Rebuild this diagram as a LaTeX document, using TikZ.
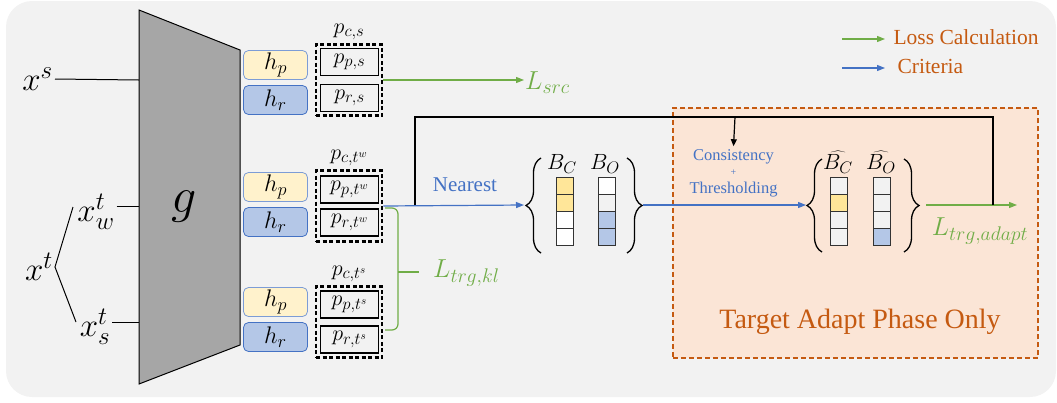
\RequirePackage{fix-cm}
\documentclass[tikz,border=0pt]{standalone}
\usepackage{fontspec}
\setmainfont{Liberation Serif}
\usetikzlibrary{positioning}
\usetikzlibrary{arrows.meta, decorations.pathreplacing}
\def\defaultscriptratio{.76}

\definecolor{panelgray}{HTML}{F2F2F2}
\definecolor{trapgray}{HTML}{A6A6A6}
\definecolor{lossgreen}{HTML}{70AD47}
\definecolor{critblue}{HTML}{4472C4}
\definecolor{adaptorange}{HTML}{C55A11}
\definecolor{adaptfill}{HTML}{FBE5D6}
\definecolor{hpfill}{HTML}{FFF2CC}
\definecolor{hrfill}{HTML}{B4C7E7}
\definecolor{cellyellow}{HTML}{FFE699}

\tikzset{
  hbox/.style={rounded corners=5pt, line width=0.8pt, minimum width=64pt, minimum height=29pt, inner sep=0pt, font=\fontsize{24}{24}\selectfont},
  pinner/.style={draw=black, line width=1.6pt, minimum width=58pt, minimum height=27pt, inner sep=0pt, font=\fontsize{22}{22}\selectfont},
  pouter/.style={draw=black, line width=2.6pt, dash pattern=on 4pt off 2.5pt, minimum width=66pt, minimum height=71pt, inner sep=0pt},
  cell/.style={draw=black!80, line width=0.8pt, minimum width=17pt, minimum height=17.2pt, inner sep=0pt},
  lossarrow/.style={lossgreen, line width=1.2pt, -{Triangle[length=8pt,width=6pt]}},
  critarrow/.style={critblue, line width=1.2pt, -{Triangle[length=8pt,width=6pt]}},
  curly/.style={decorate, decoration={brace, amplitude=15pt}, line width=1.3pt},
  mathlbl/.style={inner sep=1pt, font=\fontsize{22}{22}\selectfont},
  losslbl/.style={inner sep=1pt, text=lossgreen, font=\fontsize{26}{26}\selectfont},
  biglbl/.style={inner sep=2pt, font=\fontsize{33}{33}\selectfont},
}

\begin{document}
\begin{tikzpicture}[x=1pt,y=-1pt]
\useasboundingbox (0,0) rectangle (1057,402);
\fill[panelgray, rounded corners=26pt] (6,1) rectangle (1056,397);

% target adapt region
\node[draw=adaptorange, fill=adaptfill, line width=1.3pt, dash pattern=on 5pt off 3pt, minimum width=365pt, minimum height=250pt] (adapt) at (855.5,233) {};
\node[text=adaptorange, font=\fontsize{28}{28}\selectfont] (adaptlbl) at (860,322) {Target Adapt Phase Only};

% legend
\node[text=adaptorange, font=\fontsize{21.5}{21.5}\selectfont, anchor=west] (losslgd) at (890,37) {Loss Calculation};
\node[text=adaptorange, font=\fontsize{21.5}{21.5}\selectfont, anchor=west] (critlgd) at (894,66) {Criteria};
\draw[lossarrow] ([xshift=-48pt,yshift=-2pt]losslgd.west) -- ([xshift=-5pt,yshift=-2pt]losslgd.west);
\draw[critarrow] ([xshift=-52pt,yshift=-2pt]critlgd.west) -- ([xshift=-9pt,yshift=-2pt]critlgd.west);

% encoder g
\draw[fill=trapgray, line width=1pt] (139,10) -- (240,50) -- (240,345) -- (139,384) -- cycle;
\node[font=\fontsize{50}{50}\selectfont] (g) at (184,207) {$g$};

% inputs
\coordinate (gs) at (139,80);
\coordinate (gw) at (139,206);
\coordinate (gx) at (139,322);
\node[biglbl, anchor=east] (xs) at (55,79) {$x^s$};
\node[biglbl, anchor=east] (xt) at (55,267) {$x^t$};
\node[biglbl] (xtw) at (96,212) {$x^t_w$};
\node[biglbl] (xts) at (95,327) {$x^t_s$};
\coordinate (brw) at (73,207);
\coordinate (brs) at (76,322);
\draw[line width=1pt] (xs.east) -- (gs);
\draw[line width=1pt] (brw) -- (xt.east) -- (brs);
\draw[line width=1pt] (gw -| xtw.east) -- (gw);
\draw[line width=1pt] (gx -| xts.east) -- (gx);

% heads and predictions
\foreach \k/\yh/\yp/\dy/\sub in {1/82/80/18/s, 2/204/206/16.5/{t^w}, 3/319/322/17.5/{t^s}} {
  \node[hbox, draw=critblue!70, fill=hpfill] (hp\k) at (275.5,\yh-17) {$h_p$};
  \node[hbox, draw=critblue, fill=hrfill] (hr\k) at (275.5,\yh+18) {$h_r$};
  \node[pouter] (pc\k) at (349,\yp) {};
  \node[pinner] (pp\k) at (349.5,\yp-\dy) {$p_{p,\sub}$};
  \node[pinner] (pr\k) at (349.5,\yp+\dy) {$p_{r,\sub}$};
  \node[mathlbl, above=2pt of pc\k] (pclbl\k) {$p_{c,\sub}$};
}

% source loss
\node[losslbl, anchor=west] (lsrc) at (524,83) {$L_{src}$};
\draw[lossarrow] (pc1.east) -- (pc1.east -| lsrc.west);

% kl loss bracket
\coordinate (kltop) at (385,208);
\coordinate (klbot) at (385,330);
\coordinate (klmid) at (398,272);
\coordinate (kltip) at (419,272);
\draw[lossgreen, line width=1.2pt, rounded corners=6pt] (kltop) -| (klmid) |- (klbot);
\draw[lossgreen, line width=1.2pt] (klmid) -- (kltip);
\node[losslbl, anchor=west] (lkl) at (432,273) {$L_{trg,kl}$};

% memory banks
\node[mathlbl] (bclbl) at (562,164) {$B_C$};
\node[mathlbl] (bolbl) at (605,164) {$B_O$};
\foreach \c [count=\i] in {cellyellow, cellyellow, white, white}
  \node[cell, fill=\c] (bc\i) at (564.5,168.4+17.2*\i) {};
\foreach \c [count=\i] in {white, panelgray, hrfill, hrfill}
  \node[cell, fill=\c] (bo\i) at (607,168.4+17.2*\i) {};
\draw[curly] (541,253) -- (541,158);
\draw[curly] (627,158) -- (627,253);
\coordinate (bl) at (524,205);
\coordinate (br) at (643,205);

\node[text=critblue, font=\fontsize{21}{21}\selectfont] (nearest) at (465,185) {Nearest};
\draw[critarrow] (pc2.east) -- (bl);

% consistency and thresholding
\node[text=critblue, font=\fontsize{16.5}{16.5}\selectfont] (cons) at (733.5,157) {Consistency};
\node[text=critblue, font=\fontsize{10}{10}\selectfont] (plus) at (733.5,173) {+};
\node[text=critblue, font=\fontsize{16.5}{16.5}\selectfont] (thresh) at (733.5,190) {Thresholding};

% filtered banks
\node[mathlbl] (hbclbl) at (838,162) {$\widehat{B_C}$};
\node[mathlbl] (hbolbl) at (881,162) {$\widehat{B_O}$};
\foreach \c [count=\i] in {panelgray, cellyellow, panelgray, panelgray}
  \node[cell, fill=\c] (hbc\i) at (839,168.4+17.2*\i) {};
\foreach \c [count=\i] in {panelgray, panelgray, panelgray, hrfill}
  \node[cell, fill=\c] (hbo\i) at (881.5,168.4+17.2*\i) {};
\draw[curly] (822,252) -- (822,159);
\draw[curly] (904,159) -- (904,252);
\coordinate (hbl) at (806,205);
\coordinate (hbr) at (926,205);
\draw[critarrow] (br) -- (hbl);

% adapt loss
\coordinate (adaptend) at (1017,205);
\draw[lossarrow] (hbr) -- (adaptend);
\node[losslbl] (ladapt) at (980,231) {$L_{trg,adapt}$};

% feedback
\coordinate (fbstart) at (415,205);
\coordinate (fbend) at (993,205);
\coordinate (fbtap) at (735,117);
\draw[line width=1.2pt] (fbstart) -- ++(0,-88) -| (fbend);
\draw[line width=1.2pt, -{Triangle[length=7pt,width=6pt]}] (fbtap) -- (cons.north);

\end{tikzpicture}
\end{document}
